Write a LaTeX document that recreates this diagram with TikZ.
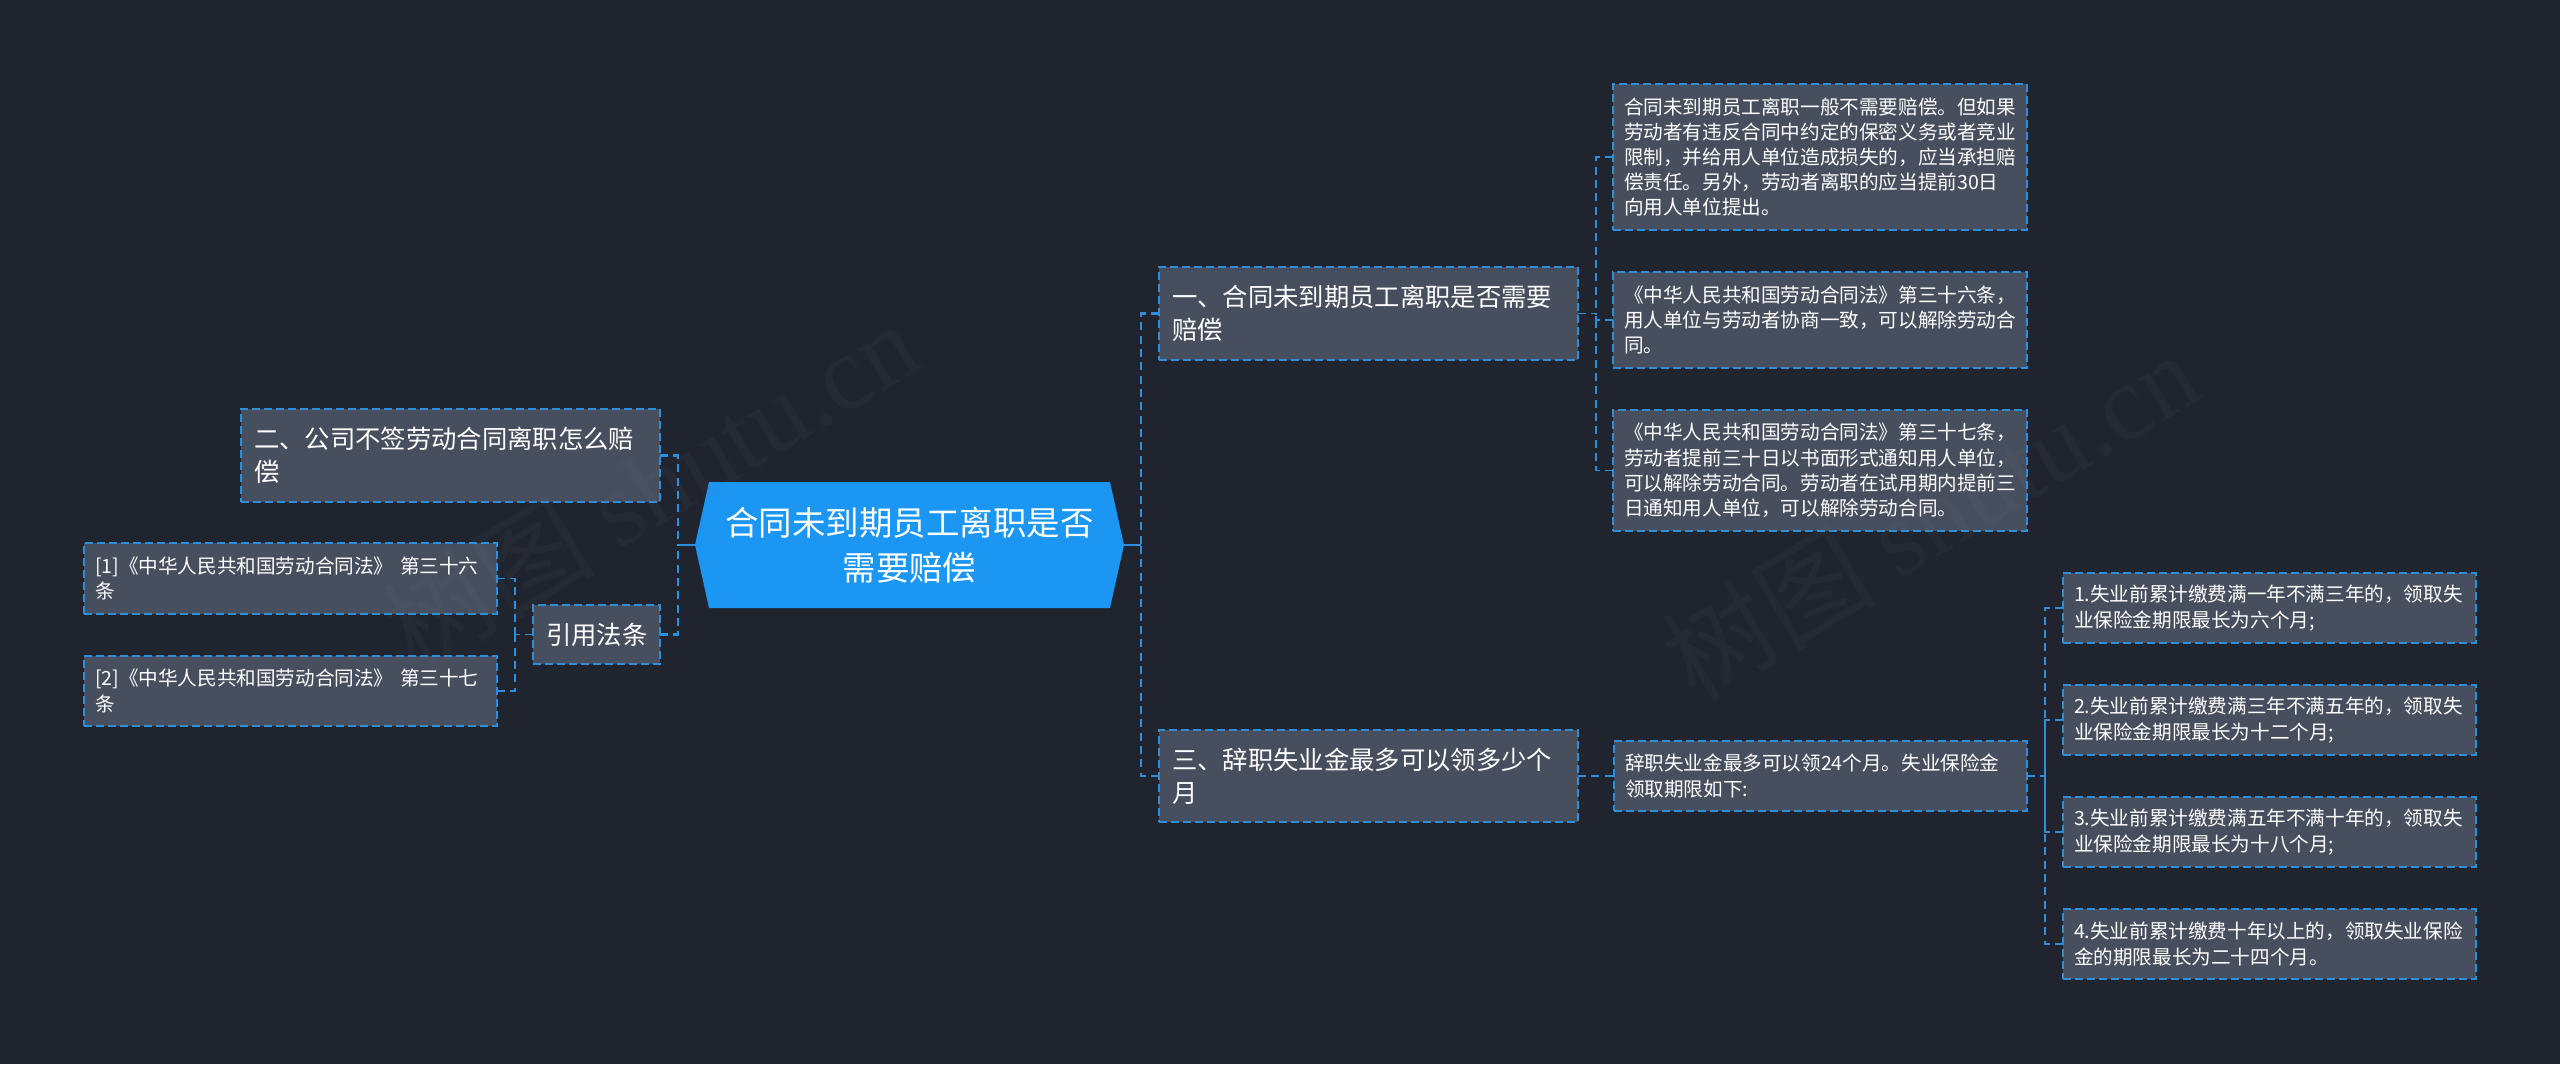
\documentclass[tikz,border=0pt]{standalone}
\usepackage{fontspec}
\setmainfont{Noto Sans CJK SC}
\newfontfamily\wmlatin{Liberation Serif}
\definecolor{bgcol}{HTML}{20242F}
\definecolor{boxcol}{HTML}{474F5E}
\definecolor{linecol}{HTML}{2B8FDC}
\definecolor{rootcol}{HTML}{1B96F3}
\definecolor{textcol}{HTML}{FFFFFF}
\newcommand{\pxu}{0.75pt}
\tikzset{
  x=0.75pt, y=-0.75pt,
  boxbase/.style={draw=linecol, fill=boxcol, line width=1.2pt, dash pattern=on 5.8pt off 3.2pt,
    text=textcol, align=left, outer sep=0pt, inner ysep=0pt},
  boxsize/.style n args={3}{minimum width=#1*\pxu, minimum height=#2*\pxu,
    inner xsep=#3*\pxu, text width=(#1-2*#3)*\pxu},
  leaf/.style={boxbase, font=\fontsize{14.7pt}{18.9pt}\selectfont},
  head/.style={boxbase, font=\fontsize{19pt}{25.1pt}\selectfont},
  rootnode/.style={text=textcol, align=center, outer sep=0pt, inner sep=0pt,
    minimum width=429*\pxu, minimum height=126*\pxu,
    font=\fontsize{25.1pt}{33.75pt}\selectfont},
  rootfill/.style={fill=rootcol, draw=none},
  conn/.style={draw=linecol, line width=1.2pt, dash pattern=on 6pt off 4pt},
  trunk/.style={draw=linecol, line width=2pt, dash pattern=on 6pt off 4pt},
  rootstub/.style={draw=linecol, line width=2pt},
  wmark/.style={text=gray, text opacity=0.06, rotate=31, inner sep=0pt,
    font=\fontsize{80pt}{80pt}\selectfont}
}
\begin{document}
\begin{tikzpicture}
\useasboundingbox (0,0) rectangle (2560,1064);
\fill[bgcol] (0,0) rectangle (2560,1064);

% root hexagon
\fill[rootfill] (695,545) -- (709,482) -- (1110,482) -- (1124,545) -- (1110,608) -- (709,608) -- cycle;
\node[rootnode] (root) at (909.5,545) {合同未到期员工离职是否\\需要赔偿};

% left
\node[head, boxsize={419}{93}{13}] (two) at (450.5,455.5) {二、公司不签劳动合同离职怎么赔\\偿};
\node[head, boxsize={127}{59}{13}] (yin) at (596.5,634.5) {引用法条};
\node[leaf, boxsize={413}{71}{11}] (ref1) at (290.5,578.5) {[1]《中华人民共和国劳动合同法》 第三十六\\条};
\node[leaf, boxsize={413}{70}{11}] (ref2) at (290.5,691) {[2]《中华人民共和国劳动合同法》 第三十七\\条};

% right, upper
\node[head, boxsize={419}{93}{13}] (one) at (1368.5,313.5) {一、合同未到期员工离职是否需要\\赔偿};
\node[leaf, boxsize={414}{146}{11}] (a1) at (1820,157) {合同未到期员工离职一般不需要赔偿。但如果\\劳动者有违反合同中约定的保密义务或者竞业\\限制，并给用人单位造成损失的，应当承担赔\\偿责任。另外，劳动者离职的应当提前30日\\向用人单位提出。};
\node[leaf, boxsize={414}{96}{11}] (a2) at (1820,320) {《中华人民共和国劳动合同法》第三十六条，\\用人单位与劳动者协商一致，可以解除劳动合\\同。};
\node[leaf, boxsize={414}{121}{11}] (a3) at (1820,470.5) {《中华人民共和国劳动合同法》第三十七条，\\劳动者提前三十日以书面形式通知用人单位，\\可以解除劳动合同。劳动者在试用期内提前三\\日通知用人单位，可以解除劳动合同。};

% right, lower
\node[head, boxsize={419}{92}{13}] (three) at (1368.5,776) {三、辞职失业金最多可以领多少个\\月};
\node[leaf, boxsize={413}{70}{11}] (b0) at (1820.5,776) {辞职失业金最多可以领24个月。失业保险金\\领取期限如下:};
\node[leaf, boxsize={413}{70}{11}] (c1) at (2269.5,608) {1.失业前累计缴费满一年不满三年的，领取失\\业保险金期限最长为六个月;};
\node[leaf, boxsize={413}{70}{11}] (c2) at (2269.5,720) {2.失业前累计缴费满三年不满五年的，领取失\\业保险金期限最长为十二个月;};
\node[leaf, boxsize={413}{70}{11}] (c3) at (2269.5,832) {3.失业前累计缴费满五年不满十年的，领取失\\业保险金期限最长为十八个月;};
\node[leaf, boxsize={413}{70}{11}] (c4) at (2269.5,944) {4.失业前累计缴费十年以上的，领取失业保险\\金的期限最长为二十四个月。};

% bus coordinates
\coordinate (busL) at (678,545);
\coordinate (busR) at (1141,545);
\coordinate (busRef) at (515,634.5);
\coordinate (busOne) at (1596,313.5);
\coordinate (busB) at (2045,776);

% connectors
\draw[rootstub] (root.west) -- (busL);
\draw[rootstub] (root.east) -- (busR);
\draw[trunk] (two.east) -| (busL);
\draw[trunk] (yin.east) -| (busL);
\draw[trunk] (one.west) -| (busR);
\draw[trunk] (three.west) -| (busR);
\draw[conn] (ref1.east) -| (busRef);
\draw[conn] (ref2.east) -| (busRef);
\draw[conn] (yin.west) -- (busRef);
\draw[conn] (one.east) -- (busOne);
\draw[conn] (a1.west) -| (busOne);
\draw[conn] (a2.west) -| (busOne);
\draw[conn] (a3.west) -| (busOne);
\draw[conn] (three.east) -- (b0.west);
\draw[conn] (b0.east) -- (busB);
\draw[conn] (c1.west) -| (busB);
\draw[conn] (c2.west) -| (busB);
\draw[conn] (c3.west) -| (busB);
\draw[conn] (c4.west) -| (busB);

% watermarks
\node[wmark] (wm1) at (650,485) {树图 {\wmlatin shutu.cn}};
\node[wmark] (wm2) at (1930,515) {树图 {\wmlatin shutu.cn}};
\end{tikzpicture}
\end{document}
